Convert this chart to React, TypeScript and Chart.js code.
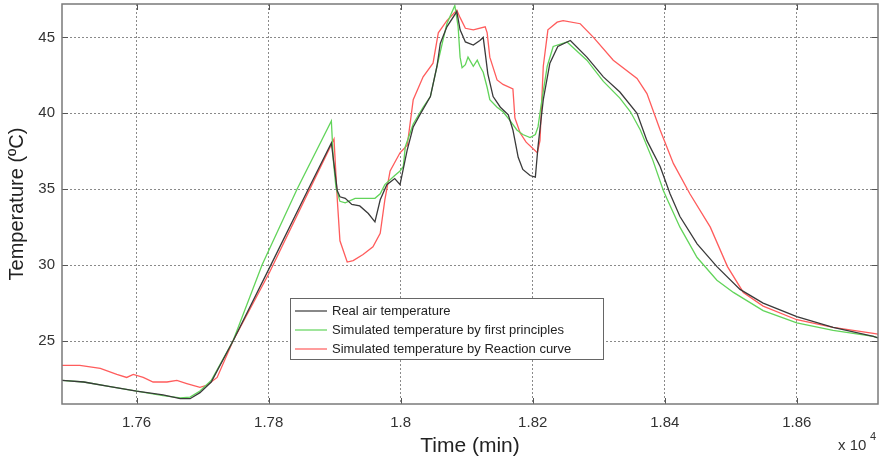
import React, { useEffect, useRef } from "react";
import { Chart, registerables } from "chart.js";

Chart.register(...registerables);

// ---- data (time in minutes, temperature in ºC) ----
const xTicks = [17600, 17800, 18000, 18200, 18400, 18600];
const yTicks = [25, 30, 35, 40, 45];
const xRange = [17487, 18723];
const yRange = [20.85, 47.2];

const seriesLabels = [
  "Real air temperature",
  "Simulated temperature by first principles",
  "Simulated temperature by Reaction curve",
];

const realTime = [
  17487, 17520, 17560, 17600, 17640, 17666, 17681, 17696, 17713, 17746, 17801, 17860, 17895,
  17904, 17908, 17916, 17926, 17938, 17951, 17961, 17969, 17979, 17991, 17999, 18010, 18019,
  18029, 18045, 18055, 18060, 18070, 18085, 18090, 18098, 18110, 18120, 18125, 18128, 18132,
  18140, 18151, 18163, 18170, 18178, 18185, 18196, 18204, 18208, 18216, 18226, 18238, 18257,
  18282, 18307, 18332, 18358, 18373, 18393, 18408, 18423, 18449, 18479, 18514, 18549, 18600,
  18655, 18716, 18723,
];
const realTemp = [
  22.4, 22.3, 22.0, 21.7, 21.45, 21.2, 21.2, 21.6, 22.3, 25.0, 29.8, 35.0, 38.05,
  34.9, 34.5, 34.4, 34.0, 33.9, 33.4, 32.85, 34.3, 35.3, 35.7, 35.3, 37.6, 39.1,
  39.9, 41.1, 43.1, 44.6, 45.7, 46.7, 45.5, 44.7, 44.5, 44.8, 45.0, 44.0, 42.6,
  41.1, 40.4, 39.9, 38.9, 37.1, 36.3, 35.9, 35.8, 37.8, 40.9, 43.3, 44.4, 44.8,
  43.7, 42.4, 41.4, 40.0, 38.2, 36.5, 34.7, 33.2, 31.4, 29.9, 28.4, 27.5, 26.6,
  25.9, 25.3, 25.2,
];

const fpTime = [
  17487, 17520, 17560, 17600, 17640, 17666, 17681, 17696, 17713, 17746, 17790, 17843, 17895,
  17898, 17902, 17908, 17916, 17931, 17946, 17961, 17969, 17976, 17991, 17999, 18004, 18007,
  18019, 18034, 18045, 18055, 18064, 18070, 18082, 18087, 18090, 18093, 18098, 18102, 18110,
  18116, 18120, 18125, 18131, 18135, 18146, 18155, 18166, 18176, 18185, 18196, 18204, 18208,
  18214, 18222, 18231, 18252, 18282, 18307, 18332, 18348, 18363, 18382, 18398, 18404, 18423,
  18449, 18479, 18504, 18549, 18600, 18655, 18716, 18723,
];
const fpTemp = [
  22.4, 22.3, 22.0, 21.7, 21.4, 21.25, 21.3, 21.7, 22.4, 25.0, 30.0, 35.0, 39.5,
  36.9, 35.1, 34.2, 34.1, 34.4, 34.4, 34.4, 34.7, 35.3, 35.9, 36.2, 36.5, 37.8,
  39.3, 40.4, 41.1, 43.1, 44.8, 45.9, 47.1, 45.7, 43.7, 43.0, 43.2, 43.7, 43.1,
  43.5, 43.1, 42.7, 41.7, 40.9, 40.4, 40.1, 39.5, 38.9, 38.6, 38.4, 38.6, 39.1,
  40.9, 43.1, 44.4, 44.7, 43.5, 42.1, 41.0, 40.1, 38.9, 36.9, 34.9, 34.3, 32.5,
  30.5, 29.0, 28.2, 27.0, 26.2, 25.7, 25.3, 25.2,
];

const rcTime = [
  17487, 17514, 17545, 17570, 17585, 17595, 17610, 17625, 17646, 17661, 17676, 17696, 17707,
  17722, 17746, 17801, 17899, 17904, 17908, 17919, 17928, 17943, 17958, 17969, 17976, 17984,
  17999, 18010, 18019, 18034, 18049, 18057, 18070, 18085, 18090, 18098, 18110, 18128, 18131,
  18135, 18146, 18155, 18170, 18173, 18181, 18190, 18207, 18211, 18216, 18223, 18237, 18246,
  18272, 18292, 18322, 18358, 18373, 18393, 18413, 18438, 18469, 18495, 18519, 18549, 18600,
  18655, 18716, 18723,
];
const rcTemp = [
  23.4, 23.4, 23.2, 22.8, 22.6, 22.8, 22.6, 22.3, 22.3, 22.4, 22.2, 21.95, 22.1,
  22.6, 25.0, 29.5, 38.3, 34.3, 31.6, 30.2, 30.3, 30.7, 31.2, 32.1, 34.3, 36.2,
  37.4, 37.9, 40.9, 42.4, 43.3, 45.3, 46.1, 46.8, 46.3, 45.6, 45.5, 45.7, 45.3,
  43.7, 42.2, 41.9, 41.6, 39.7, 38.7, 38.1, 37.4, 38.2, 43.1, 45.5, 46.0, 46.1,
  45.9, 45.0, 43.5, 42.3, 41.3, 38.9, 36.7, 34.7, 32.5, 29.9, 28.2, 27.3, 26.4,
  25.9, 25.5, 25.45,
];

const toPoints = (xs: number[], ys: number[]) => xs.map((x, i) => ({ x, y: ys[i] }));

const FONT = "Arial, 'Liberation Sans', Helvetica, sans-serif";

const frameAndLegend = {
  id: "frameAndLegend",
  afterDraw(chart: any) {
    const { ctx, chartArea } = chart;
    const { left, right, top, bottom } = chartArea;
    const xs = chart.scales.x;
    const ys = chart.scales.y;
    ctx.save();
    // inner tick marks
    ctx.strokeStyle = "#555";
    ctx.lineWidth = 1;
    ctx.beginPath();
    xTicks.forEach((v) => {
      const px = Math.round(xs.getPixelForValue(v)) + 0.5;
      ctx.moveTo(px, bottom);
      ctx.lineTo(px, bottom - 6);
      ctx.moveTo(px, top);
      ctx.lineTo(px, top + 6);
    });
    yTicks.forEach((v) => {
      const py = Math.round(ys.getPixelForValue(v)) + 0.5;
      ctx.moveTo(left, py);
      ctx.lineTo(left + 6, py);
      ctx.moveTo(right, py);
      ctx.lineTo(right - 6, py);
    });
    ctx.stroke();
    // frame
    ctx.strokeStyle = "#7a7a7a";
    ctx.lineWidth = 1.5;
    ctx.strokeRect(left, top, right - left, bottom - top);

    // exponent label
    ctx.fillStyle = "#333";
    ctx.textBaseline = "alphabetic";
    ctx.textAlign = "left";
    ctx.font = `15px ${FONT}`;
    ctx.fillText("x 10", 838, 450);
    ctx.font = `11px ${FONT}`;
    ctx.fillText("4", 870, 440);

    // legend
    const bx = 290, by = 298, bw = 313, bh = 61;
    ctx.fillStyle = "#fff";
    ctx.fillRect(bx, by, bw, bh);
    ctx.strokeStyle = "#666";
    ctx.lineWidth = 1;
    ctx.strokeRect(bx + 0.5, by + 0.5, bw, bh);
    ctx.font = `13px ${FONT}`;
    ctx.textBaseline = "middle";
    chart.data.datasets.forEach((ds: any, i: number) => {
      const cy = by + 13 + i * 19;
      ctx.strokeStyle = ds.borderColor;
      ctx.lineWidth = 1.2;
      ctx.beginPath();
      ctx.moveTo(bx + 5, cy);
      ctx.lineTo(bx + 37, cy);
      ctx.stroke();
      ctx.fillStyle = "#222";
      ctx.fillText(ds.label, bx + 42, cy + 0.5);
    });
    ctx.restore();
  },
};

export default function App() {
  const canvasRef = useRef<HTMLCanvasElement | null>(null);

  useEffect(() => {
    const canvas = canvasRef.current;
    if (!canvas) return;
    const chart = new Chart(canvas, {
      type: "line",
      data: {
        datasets: [
          {
            label: seriesLabels[0],
            data: toPoints(realTime, realTemp),
            borderColor: "#3a3a3a",
            borderWidth: 1.3,
            pointRadius: 0,
            tension: 0,
          },
          {
            label: seriesLabels[1],
            data: toPoints(fpTime, fpTemp),
            borderColor: "#62d45a",
            borderWidth: 1.3,
            pointRadius: 0,
            tension: 0,
          },
          {
            label: seriesLabels[2],
            data: toPoints(rcTime, rcTemp),
            borderColor: "#ff5c5c",
            borderWidth: 1.3,
            pointRadius: 0,
            tension: 0,
          },
        ],
      },
      options: {
        responsive: false,
        animation: false,
        devicePixelRatio: 1,
        layout: { padding: { left: 0, right: 4, top: 4, bottom: 0 } },
        plugins: {
          legend: { display: false },
          tooltip: { enabled: false },
        },
        scales: {
          x: {
            type: "linear",
            min: xRange[0],
            max: xRange[1],
            afterBuildTicks: (scale: any) => {
              scale.ticks = xTicks.map((v) => ({ value: v }));
            },
            afterFit: (scale: any) => {
              scale.height = 57;
              scale.paddingLeft = 0;
              scale.paddingRight = 0;
            },
            grid: {
              color: "#8a8a8a",
              lineWidth: 1,
              drawTicks: false,
            },
            border: { display: false, dash: [2, 2] },
            ticks: {
              padding: 10,
              color: "#333",
              font: { family: FONT, size: 15 },
              callback: (v: any) => String(parseFloat((Number(v) / 1e4).toFixed(2))),
            },
            title: {
              display: true,
              text: "Time (min)",
              color: "#222",
              font: { family: FONT, size: 21 },
              padding: { top: 0, bottom: 2 },
            },
          },
          y: {
            type: "linear",
            min: yRange[0],
            max: yRange[1],
            afterBuildTicks: (scale: any) => {
              scale.ticks = yTicks.map((v) => ({ value: v }));
            },
            afterFit: (scale: any) => {
              scale.width = 62;
              scale.paddingTop = 0;
              scale.paddingBottom = 0;
            },
            grid: {
              color: "#8a8a8a",
              lineWidth: 1,
              drawTicks: false,
            },
            border: { display: false, dash: [2, 2] },
            ticks: {
              padding: 7,
              color: "#333",
              font: { family: FONT, size: 15 },
            },
            title: {
              display: true,
              text: "Temperature (ºC)",
              color: "#222",
              font: { family: FONT, size: 20 },
              padding: { top: 5, bottom: 0 },
            },
          },
        },
      },
      plugins: [frameAndLegend],
    } as any);
    return () => chart.destroy();
  }, []);

  return (
    <div style={{ position: "fixed", left: 0, top: 0, width: 882, height: 461, background: "#fff" }}>
      <canvas ref={canvasRef} width={882} height={461} style={{ width: 882, height: 461, display: "block" }} />
    </div>
  );
}
